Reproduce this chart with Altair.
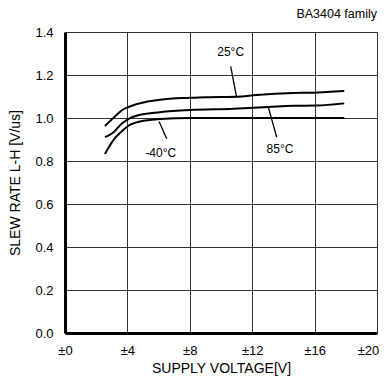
import altair as alt
import pandas as pd

# Curve data (supply voltage ±V, slew rate V/us)
x_25 = [2.56, 3.1, 3.63, 4.06, 4.81, 6.09, 8.01, 9.0, 11.0, 12.29, 14.63, 15.9, 17.9]
y_25 = [0.963, 1.0, 1.035, 1.051, 1.069, 1.085, 1.094, 1.097, 1.099, 1.107, 1.116, 1.118, 1.126]

x_85 = [2.56, 3.1, 3.63, 4.06, 4.81, 6.09, 8.01, 10.8, 13.03, 14.63, 16.1, 17.9]
y_85 = [0.911, 0.933, 0.973, 0.995, 1.015, 1.027, 1.037, 1.043, 1.051, 1.057, 1.058, 1.068]

x_m40 = [2.56, 3.2, 3.63, 4.06, 4.81, 6.09, 8.01, 17.9]
y_m40 = [0.833, 0.906, 0.937, 0.964, 0.984, 0.995, 1.0, 1.0]

label_text = ["25°C", "85°C", "-40°C"]
label_x = [10.62, 13.78, 6.14]
label_y = [1.307, 0.854, 0.838]

leader_x1 = [10.62, 13.03, 6.03]
leader_y1 = [1.24, 1.051, 0.984]
leader_x2 = [11.0, 13.57, 6.52]
leader_y2 = [1.097, 0.911, 0.903]

x_ticks = [0, 4, 8, 12, 16, 20]
y_ticks = [0.0, 0.2, 0.4, 0.6, 0.8, 1.0, 1.2, 1.4]

rows = []
for name, xs, ys in [("25", x_25, y_25), ("85", x_85, y_85), ("-40", x_m40, y_m40)]:
    for i, (a, b) in enumerate(zip(xs, ys)):
        rows.append({"series": name, "order": i, "v": a, "sr": b})
curves = pd.DataFrame(rows)

labels = pd.DataFrame({"t": label_text, "x": label_x, "y": label_y})
leaders = pd.DataFrame({"x": leader_x1, "y": leader_y1, "x2": leader_x2, "y2": leader_y2})

FONT = "Liberation Sans"

xscale = alt.Scale(domain=[0, 20], nice=False, zero=False)
yscale = alt.Scale(domain=[0, 1.4], nice=False)

xaxis = alt.Axis(
    values=x_ticks, labelExpr="'±' + datum.value", title="SUPPLY VOLTAGE[V]",
    grid=True, ticks=False, labelPadding=11, titlePadding=4,
    labelOffset=alt.ExprRef("datum.value == 20 ? -9 : 0"),
    labelFontSize=13, titleFontSize=14, titleFontWeight="normal",
    labelFont=FONT, titleFont=FONT, labelColor="black", titleColor="black",
    domainColor="black", domainWidth=3, gridColor="#333333", gridWidth=1,
    labelFlush=False, labelOverlap=False,
)
yaxis = alt.Axis(
    values=y_ticks, format=".1f", title="SLEW RATE L-H [V/us]",
    grid=True, ticks=False, labelPadding=12, titlePadding=12,
    labelFontSize=13, titleFontSize=14, titleFontWeight="normal",
    labelFont=FONT, titleFont=FONT, labelColor="black", titleColor="black",
    domainColor="black", domainWidth=3, gridColor="#333333", gridWidth=1,
    labelFlush=False, labelOverlap=False,
)

lines = alt.Chart(curves).mark_line(color="black", strokeWidth=2, interpolate="monotone").encode(
    x=alt.X("v:Q", scale=xscale, axis=xaxis),
    y=alt.Y("sr:Q", scale=yscale, axis=yaxis),
    detail="series:N",
    order="order:Q",
)

lead = alt.Chart(leaders).mark_rule(color="black", strokeWidth=1.3).encode(
    x=alt.X("x:Q", scale=xscale), y=alt.Y("y:Q", scale=yscale),
    x2="x2:Q", y2="y2:Q",
)

txt = alt.Chart(labels).mark_text(font=FONT, fontSize=12, color="black", align="center", baseline="middle").encode(
    x=alt.X("x:Q", scale=xscale), y=alt.Y("y:Q", scale=yscale), text="t:N",
)

chart = alt.layer(lines, lead, txt).properties(
    width=312, height=301,
    title=alt.TitleParams("BA3404  family", anchor="end", frame="group", font=FONT,
                          fontSize=12.5, fontWeight="normal", color="black", offset=6),
    autosize=alt.AutoSizeParams(type="none"),
    padding={"left": 57, "top": 24, "right": 4, "bottom": 45},
).configure_view(stroke="black", strokeWidth=2).configure(background="white")

chart.save("out.html", embed_options={"renderer": "svg", "actions": False})
